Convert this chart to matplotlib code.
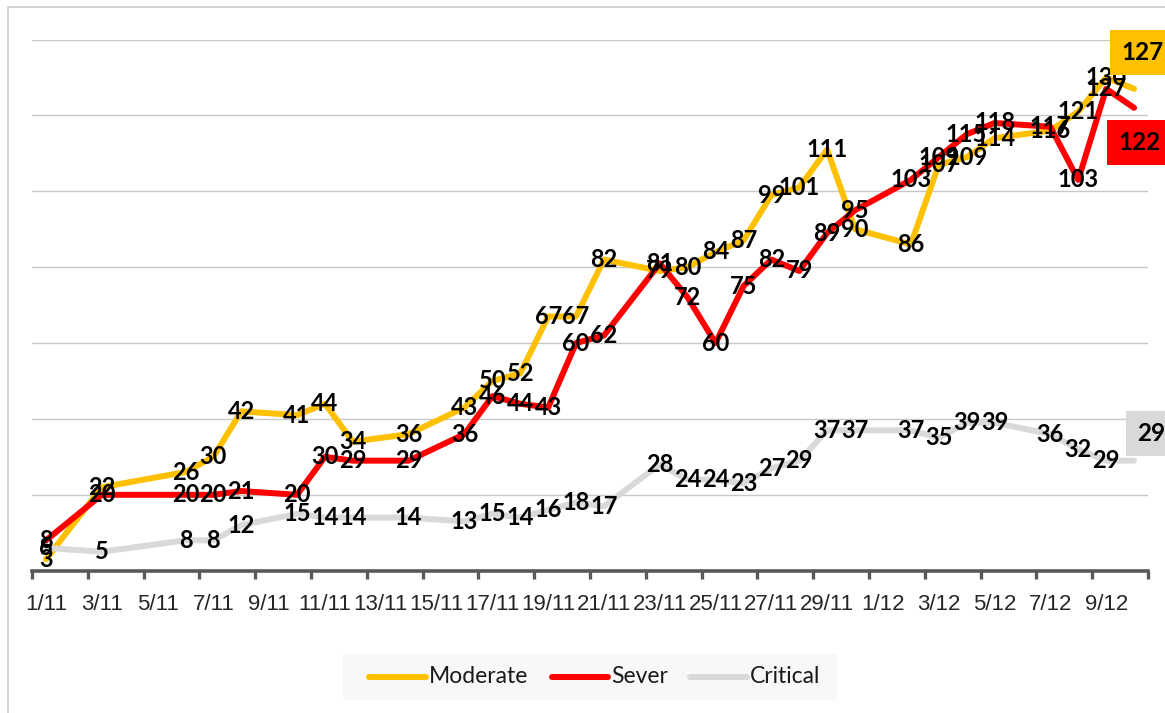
import matplotlib
matplotlib.use('Agg')
import matplotlib.pyplot as plt
from matplotlib.lines import Line2D
from matplotlib.patches import Rectangle

dates = ['1/11', '2/11', '3/11', '4/11', '5/11', '6/11', '7/11', '8/11', '9/11', '10/11',
         '11/11', '12/11', '13/11', '14/11', '15/11', '16/11', '17/11', '18/11', '19/11', '20/11',
         '21/11', '22/11', '23/11', '24/11', '25/11', '26/11', '27/11', '28/11', '29/11', '30/11',
         '1/12', '2/12', '3/12', '4/12', '5/12', '6/12', '7/12', '8/12', '9/12', '10/12']

moderate = [3, None, 22, None, None, 26, 30, 42, None, 41, 44, 34, None, 36, None, 43, 50, 52, 67, 67,
            82, None, 79, 80, 84, 87, 99, 101, 111, 90, None, 86, 107, 109, 114, None, 116, 121, 130, 127]
severe = [8, None, 20, None, None, 20, 20, 21, None, 20, 30, 29, None, 29, None, 36, 46, 44, 43, 60,
          62, None, 81, 72, 60, 75, 82, 79, 89, 95, None, 103, 109, 115, 118, None, 117, 103, 127, 122]
critical = [6, None, 5, None, None, 8, 8, 12, None, 15, 14, 14, None, 14, None, 13, 15, 14, 16, 18,
            17, None, 28, 24, 24, 23, 27, 29, 37, 37, None, 37, 35, 39, 39, None, 36, 32, 29, 29]

series_names = ['Moderate', 'Sever', 'Critical']
series_values = [moderate, severe, critical]
colors = ['#FFC000', '#FF0000', '#D9D9D9']
last_offsets = [(8, 36), (5, -35), (17, 27)]

W, H = 1165, 713
fig = plt.figure(figsize=(W / 100, H / 100), dpi=100)
fig.patch.set_facecolor('white')

# outer chart border (extends beyond the image on right / bottom)
fig.patches.append(Rectangle((7.5 / W, -0.05), 1.2, (1 - 6.5 / H) + 0.05, transform=fig.transFigure,
                             fill=False, ec='#d0d0d0', lw=1.3, zorder=0))

x0, x1 = 32, 1148
y0, y1 = 570.7, 39.5
ax = fig.add_axes([x0 / W, 1 - y0 / H, (x1 - x0) / W, (y0 - y1) / H])
ax.set_xlim(-0.5, len(dates) - 0.5)
ax.set_ylim(0, 140)
ax.set_yticks(range(0, 141, 20))
ax.yaxis.grid(True, color='#c8c8c8', lw=1.0)
ax.set_axisbelow(True)
ax.tick_params(axis='y', left=False, labelleft=False)
for s in ['left', 'right', 'top']:
    ax.spines[s].set_visible(False)
ax.spines['bottom'].set_color('#595959')
ax.spines['bottom'].set_linewidth(2.6)
ax.spines['bottom'].set_zorder(3)

# major ticks between categories (every two), minor ticks carry labels
major = [i - 0.5 for i in range(0, len(dates) + 1, 2)]
ax.set_xticks(major)
ax.set_xticklabels([''] * len(major))
ax.tick_params(axis='x', which='major', length=6, width=2.4, color='#595959', direction='out')
label_pos = list(range(0, len(dates), 2))
ax.set_xticks(label_pos, minor=True)
ax.set_xticklabels([dates[i] for i in label_pos], minor=True,
                   fontsize=16, family='Liberation Sans', color='#262626')
ax.tick_params(axis='x', which='minor', length=0, pad=17)

for k, (vals, col) in enumerate(zip(series_values, colors)):
    xs = [i for i, v in enumerate(vals) if v is not None]
    ys = [v for v in vals if v is not None]
    ax.plot(xs, ys, color=col, lw=4.3, solid_capstyle='round', solid_joinstyle='round',
            zorder=2 + k * 0.1, clip_on=False)
    for xi, yi in zip(xs[:-1], ys[:-1]):
        ax.text(xi, yi, str(yi), ha='center', va='center', fontsize=17, fontweight='bold',
                family='Lato', color='black', zorder=6)
    ax.annotate(str(ys[-1]), (xs[-1], ys[-1]), xytext=last_offsets[k], textcoords='offset pixels',
                ha='center', va='center', fontsize=17.5, fontweight='bold', family='Lato', color='black',
                bbox=dict(boxstyle='square,pad=0.45', fc=col, ec='none'), zorder=7, annotation_clip=False)

# legend (manual, to match layout)
lx0, lx1, ly0, ly1 = 343, 837, 654, 700
fig.patches.append(Rectangle((lx0 / W, 1 - ly1 / H), (lx1 - lx0) / W, (ly1 - ly0) / H,
                             transform=fig.transFigure, fc='#f8f8f8', ec='none', zorder=1))
ly = 1 - 676.5 / H
handles = [(369, 426, 429), (552, 608, 611), (690, 747, 750)]
for (hx0, hx1, tx), name, col in zip(handles, series_names, colors):
    fig.lines.append(Line2D([hx0 / W, hx1 / W], [ly, ly], transform=fig.transFigure, color=col,
                            lw=4.3, solid_capstyle='round', zorder=2))
    fig.text(tx / W, ly, name, ha='left', va='center', fontsize=16.5, family='Lato', color='#1a1a1a', zorder=3)

fig.savefig('out.png', dpi=100, facecolor='white')
